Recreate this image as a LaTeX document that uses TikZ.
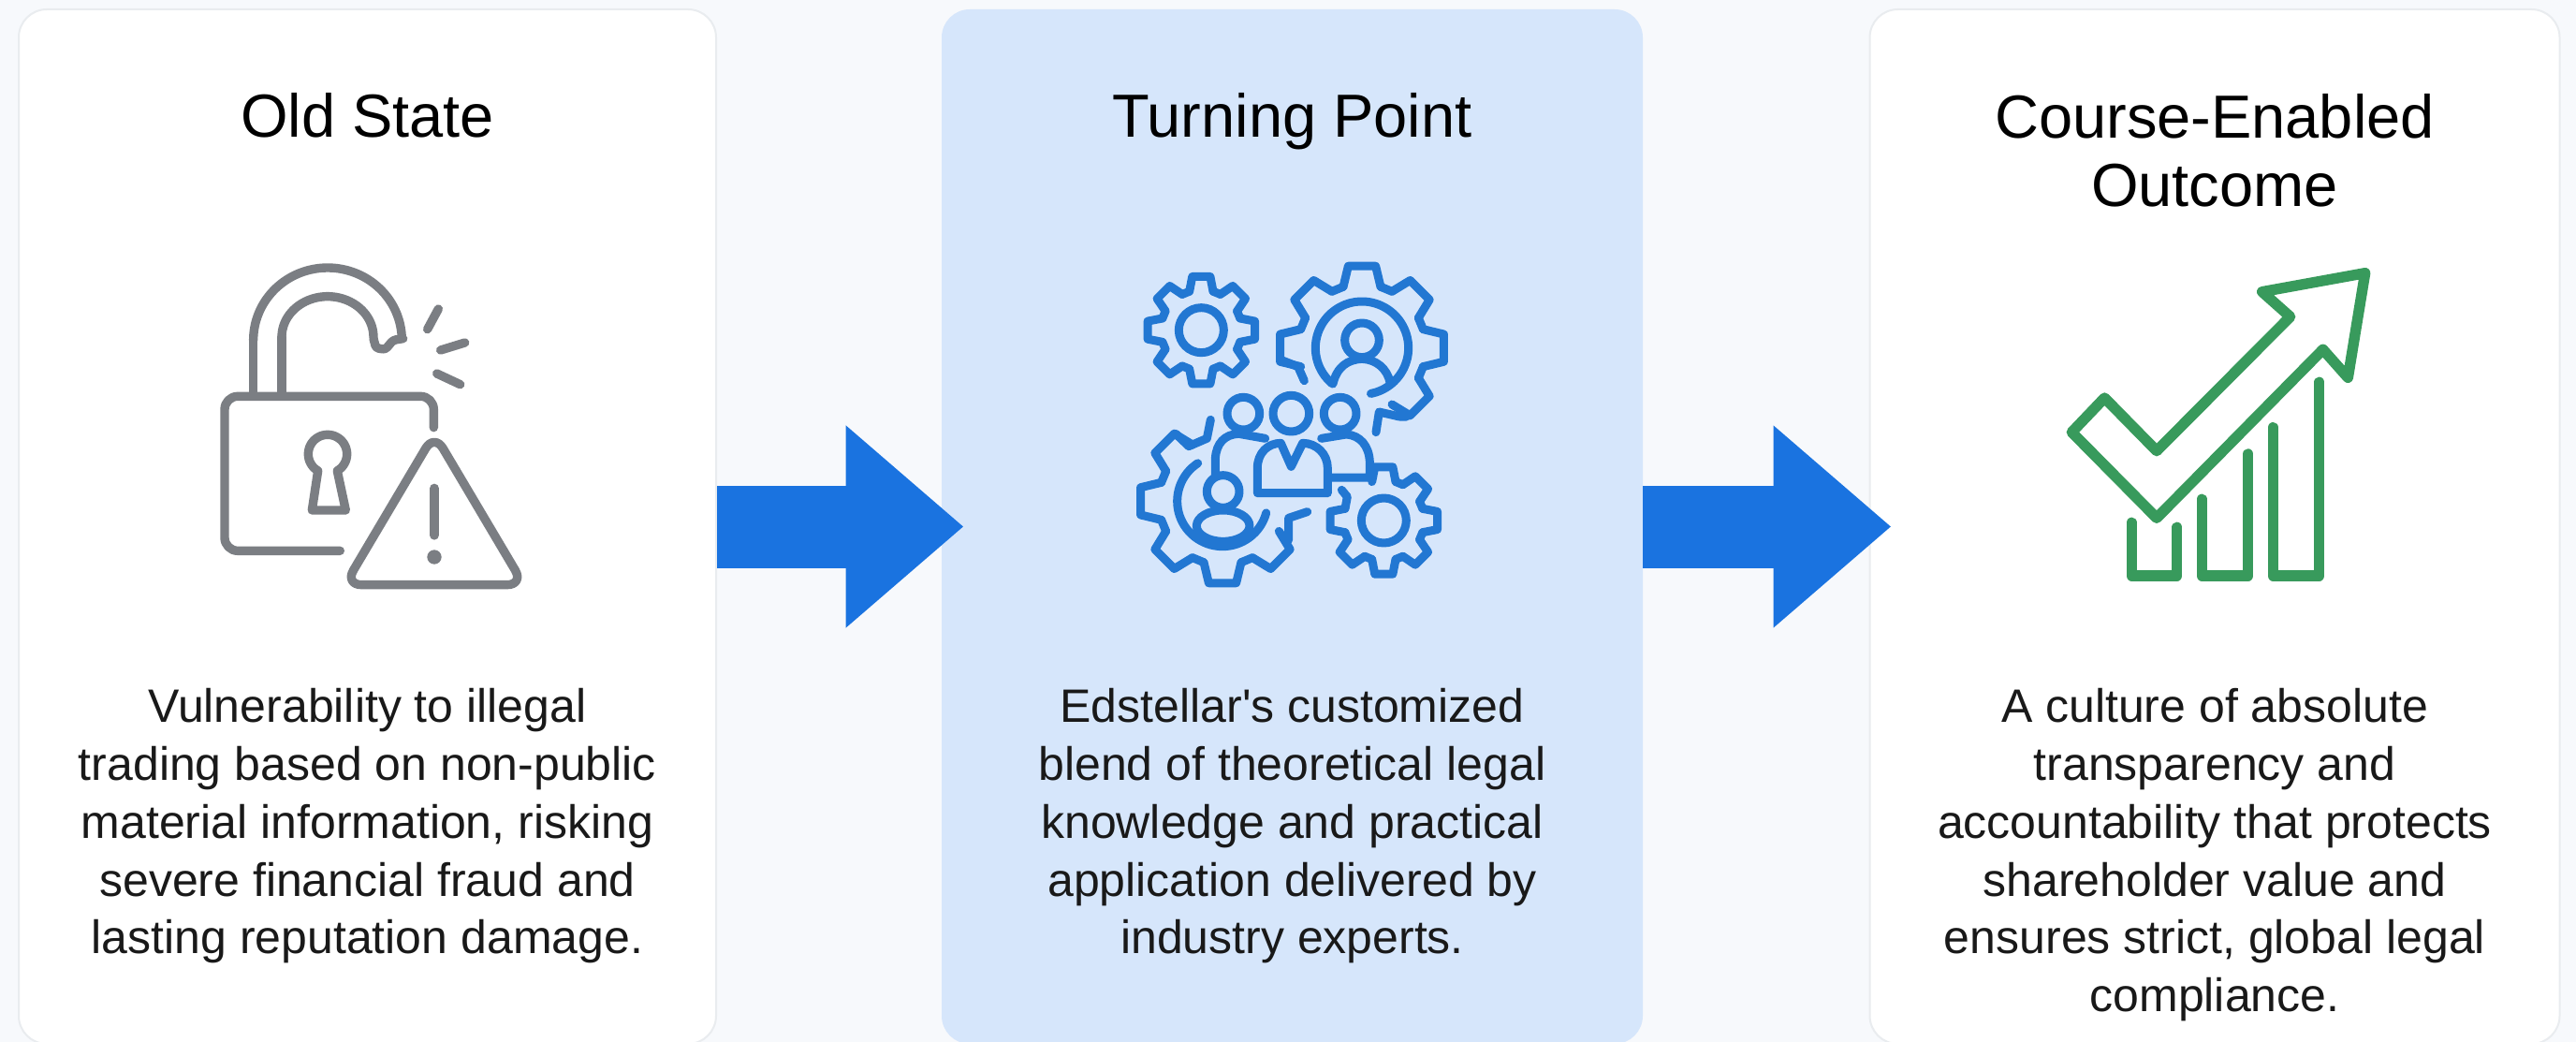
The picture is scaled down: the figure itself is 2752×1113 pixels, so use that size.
\documentclass[tikz,border=0pt]{standalone}
\usepackage{fontspec}
\setmainfont{Liberation Sans}
\usetikzlibrary{arrows.meta, positioning}
\definecolor{pagebg}{HTML}{F7F9FC}
\definecolor{cardline}{HTML}{E9ECEF}
\definecolor{turnfill}{HTML}{D6E6FB}
\definecolor{flowblue}{HTML}{1A73E0}
\definecolor{lockgray}{HTML}{7B7E83}
\definecolor{gearblue}{HTML}{2277D2}
\definecolor{growgreen}{HTML}{389A5C}
\tikzset{
  card/.style={draw=cardline, line width=1pt, fill=white, rounded corners=15pt, minimum height=552.5pt},
  turncard/.style={fill=turnfill, rounded corners=15pt, minimum height=552.5pt},
  heading/.style={font=\fontsize{32.5}{36.5}\selectfont, align=center, text=black},
  bodytext/.style={font=\fontsize{25}{30.9}\selectfont, align=center, anchor=north, inner sep=0pt, text=black!90},
  flowarrow/.style={line width=44pt, flowblue, shorten >=-12pt, -{Triangle[length=63pt, width=104pt]}},
  lockline/.style={draw=lockgray, line width=4.7pt, line cap=round, line join=round},
  gearline/.style={draw=gearblue, line width=4.5pt, line cap=round, line join=round},
  growline/.style={draw=growgreen, line width=5.7pt, line cap=round, line join=round}
}
% circular or elliptic arc in the flipped picture units: cx, cy, rx, ry, from, to
\newcommand{\arcpx}[7][]{\draw[#1] plot[domain=#6:#7, samples=48, smooth] ({#2+#4*cos(\x)},{#3-#5*sin(\x)});}
% gear outline: cx, cy, inner r, outer r, teeth list, valley list (valley runs from a tooth to the next one)
\newcommand{\gearpx}[6]{%
  \foreach \a in {#5}{
    \draw[gearline] ({#1+#3*cos(\a-17)},{#2-#3*sin(\a-17)}) -- ({#1+#4*cos(\a-9.5)},{#2-#4*sin(\a-9.5)})
      -- ({#1+#4*cos(\a+9.5)},{#2-#4*sin(\a+9.5)}) -- ({#1+#3*cos(\a+17)},{#2-#3*sin(\a+17)});
  }
  \foreach \a in {#6}{
    \draw[gearline] ({#1+#3*cos(\a+17)},{#2-#3*sin(\a+17)}) -- ({#1+#3*cos(\a+28)},{#2-#3*sin(\a+28)});
  }
}
\begin{document}
\begin{tikzpicture}[x=0.5pt, y=-0.5pt]
  \useasboundingbox[fill=pagebg] (0,0) rectangle (2752,1113);

  % Three cards, running off the lower edge
  \node[card, minimum width=372.5pt] (old) at (392.5,562.5) {};
  \node[turncard, minimum width=374.5pt] (turn) at (1380.5,562.5) {};
  \node[card, minimum width=368.5pt] (outcome) at (2366,562.5) {};

  % Flow between the cards
  \draw[flowarrow] (old.east) -- (turn.west);
  \draw[flowarrow] (turn.east) -- (outcome.west);

  % Headings
  \node[heading, anchor=base] (oldtitle) at (392.5,147) {Old State};
  \node[heading, anchor=base] (turntitle) at (1380.5,147) {Turning Point};
  \node[heading] (outcometitle) at (2366,161) {Course-Enabled\\Outcome};

  % Body texts
  \node[bodytext] (oldtext) at (392.5,735) {Vulnerability to illegal\\trading based on non-public\\material information, risking\\severe financial fraud and\\lasting reputation damage.};
  \node[bodytext] (turntext) at (1380.5,735) {Edstellar\textquotesingle s customized\\blend of theoretical legal\\knowledge and practical\\application delivered by\\industry experts.};
  \node[bodytext] (outcometext) at (2366,735) {A culture of absolute\\transparency and\\accountability that protects\\shareholder value and\\ensures strict, global legal\\compliance.};

  % Open lock with warning sign
  \begin{scope}[shift={(200,250)}, scale=1/3]
    \draw[lockline, rounded corners=7pt] (490,1015) -- (120,1015) -- (120,520) -- (790,520) -- (790,620);
    \draw[lockline] (212,515) -- (212,340);
    \arcpx[lockline]{450}{340}{238}{232}{2}{180}
    \draw[lockline] (303,515) -- (303,330);
    \arcpx[lockline]{450}{330}{147}{130}{0}{180}
    \draw[lockline, rounded corners=1.5pt] (597,335) -- (605,365) -- (635,370) -- (660,340) -- (692,335);
    \arcpx[lockline]{450}{705}{62}{62}{-60}{240}
    \draw[lockline] (419,759) -- (400,885) -- (508,885) -- (481,759);
    \draw[lockline] (770,305) -- (805,240);
    \draw[lockline] (812,372) -- (890,348);
    \draw[lockline] (800,447) -- (875,482);
    \draw[lockline, rounded corners=9pt] (792,640) -- (505,1124) -- (1079,1124) -- cycle;
    \draw[lockline, line width=5pt] (792,815) -- (792,965);
    \fill[lockgray] (792,1035) circle[radius=23];
  \end{scope}

  % Gears and people
  \begin{scope}[shift={(1180,260)}, scale=1/3]
    \gearpx{310}{278}{130}{174}{0,45,90,135,180,225,270,315}{0,45,90,135,180,225,270,315}
    \draw[gearline] (310,278) circle[radius=72];
    \gearpx{895}{888}{130}{174}{90,45,0,-45,-90,-135,180}{-135,-90,-45,0,45,180}
    \draw[gearline] (760,790) -- (778,812) -- (771,850);
    \draw[gearline] (895,888) circle[radius=72];
    % upper large gear
    \gearpx{825}{335}{205}{266}{-45,0,45,90,135,180}{-45,0,45,90,135}
    \draw[gearline] (870,605) -- (880,540) -- (945,555) -- (968,555);
    \draw[gearline] (562,372) -- (620,395) -- (640,440);
    \arcpx[gearline]{825}{335}{149}{149}{-79}{230}
    \draw[gearline] (825,310) circle[radius=55];
    \draw[gearline] (732,450) .. controls (745,395) and (780,372) .. (825,370) .. controls (870,372) and (905,400) .. (915,445);
    % lower large gear
    \gearpx{378}{826}{205}{266}{135,180,225,270,315}{135,180,225,270}
    \draw[gearline] (340,565) -- (328,625) -- (270,650) -- (228,610);
    \draw[gearline] (590,950) -- (590,880) -- (650,860);
    \arcpx[gearline]{378}{826}{145}{145}{123}{345}
    \draw[gearline] (380,795) circle[radius=52];
    \draw[gearline] (380,905) ellipse[x radius=85, y radius=50];
    % three people
    \draw[gearline] (598,545) circle[radius=58];
    \draw[gearline] (445,545) circle[radius=52];
    \draw[gearline] (755,545) circle[radius=52];
    \draw[gearline] (490,800) -- (490,720) .. controls (490,670) and (525,640) .. (565,640) -- (598,715) -- (635,640) .. controls (680,640) and (715,675) .. (715,720) -- (715,800) -- cycle;
    \draw[gearline] (355,745) -- (355,690) .. controls (358,640) and (385,612) .. (430,610) -- (515,625);
    \draw[gearline] (695,625) -- (775,612) .. controls (820,615) and (848,650) .. (850,700) -- (850,750) -- (725,750);
  \end{scope}

  % Check mark arrow over rising bars
  \begin{scope}[shift={(2180,270)}, scale=1/3]
    \draw[growline] (1040,65) -- (710,125) -- (800,205) -- (372,635) -- (205,465) -- (100,575) -- (372,850) -- (905,310) -- (985,400) -- cycle;
    \draw[growline] (292,865) -- (292,1035) -- (437,1035) -- (437,880);
    \draw[growline] (517,790) -- (517,1035) -- (665,1035) -- (665,645);
    \draw[growline] (745,560) -- (745,1035) -- (893,1035) -- (893,415);
  \end{scope}
\end{tikzpicture}
\end{document}
